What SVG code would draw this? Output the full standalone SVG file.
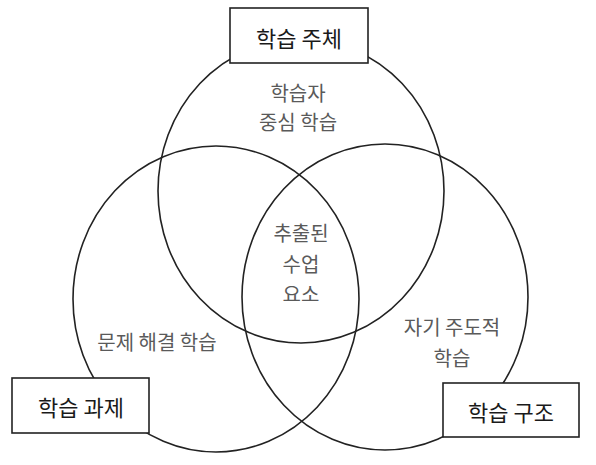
<svg xmlns="http://www.w3.org/2000/svg" width="596" height="465" viewBox="0 0 596 465">
<style>
.c{fill:none;stroke:#222;stroke-width:1.6}
.b{fill:#fff;stroke:#222;stroke-width:1.6}
.t{font-family:"Noto Sans CJK KR","Noto Sans",sans-serif;font-size:22px;fill:#1a1a1a;text-anchor:middle}
.s{font-family:"Noto Sans CJK KR","Noto Sans",sans-serif;font-size:20px;fill:#5a5a5a;text-anchor:middle}
</style>
<rect width="596" height="465" fill="#fff"/>
<g id="connectors">
<ellipse class="c" cx="301" cy="191" rx="143" ry="152"/>
<ellipse class="c" cx="216" cy="299" rx="143" ry="153"/>
<ellipse class="c" cx="385" cy="297" rx="143" ry="153"/>
</g>
<g id="subject">
<rect class="b" x="230" y="8" width="138" height="55"/>
<text class="t" x="299" y="47">학습 주체</text>
</g>
<g id="task">
<rect class="b" x="12" y="378" width="137" height="55"/>
<text class="t" x="81" y="416">학습 과제</text>
</g>
<g id="structure">
<rect class="b" x="443" y="383" width="136" height="54"/>
<text class="t" x="511" y="421">학습 구조</text>
</g>
<g id="learner-centered">
<text class="s" x="298" y="101">학습자</text>
<text class="s" x="298" y="130">중심 학습</text>
</g>
<g id="extracted">
<text class="s" x="301" y="241">추출된</text>
<text class="s" x="301" y="272">수업</text>
<text class="s" x="301" y="302">요소</text>
</g>
<g id="problem-solving">
<text class="s" x="157" y="350">문제 해결 학습</text>
</g>
<g id="self-directed">
<text class="s" x="452" y="335">자기 주도적</text>
<text class="s" x="452" y="366">학습</text>
</g>
</svg>
